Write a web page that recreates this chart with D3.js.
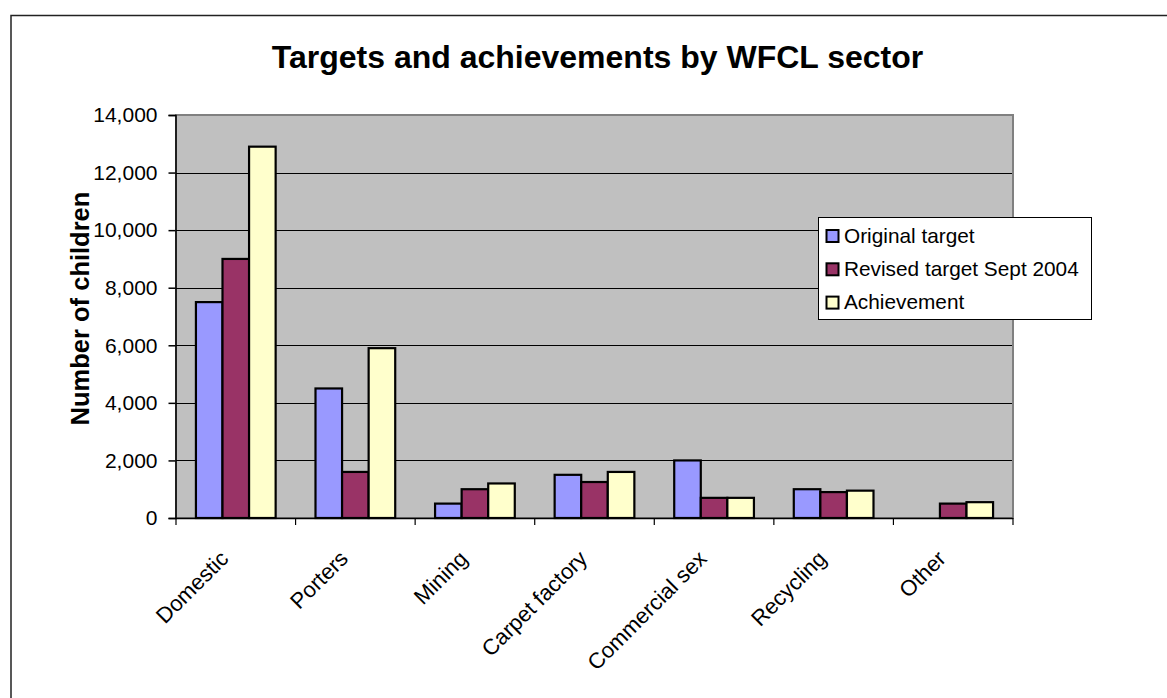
<!DOCTYPE html>
<html>
<head>
<meta charset="utf-8">
<script src="https://cdn.jsdelivr.net/npm/d3@7"></script>
<style>
  html, body { margin: 0; padding: 0; background: #fff; }
  svg { display: block; font-family: "Liberation Sans", Arial, sans-serif; }
</style>
</head>
<body>
<svg id="chart" width="1167" height="698"></svg>
<script>
const categories = ["Domestic", "Porters", "Mining", "Carpet factory", "Commercial sex", "Recycling", "Other"];
const seriesNames = ["Original target", "Revised target Sept 2004", "Achievement"];
const originalTarget = [7500, 4500, 500, 1500, 2000, 1000, null];
const revisedTarget = [9000, 1600, 1000, 1250, 700, 900, 500];
const achievement = [12900, 5900, 1200, 1600, 700, 950, 550];
const seriesColors = ["#9999FF", "#993366", "#FFFFCC"];
const yTicks = [0, 2000, 4000, 6000, 8000, 10000, 12000, 14000];
const titleText = "Targets and achievements by WFCL sector";
const yAxisTitle = "Number of children";

const seriesValues = [originalTarget, revisedTarget, achievement];

const svg = d3.select("#chart");
const plot = { left: 176, right: 1013, top: 115, bottom: 518 };

// outer chart border (extends past the visible frame on right and bottom)
svg.append("rect")
  .attr("x", 11).attr("y", 15.5)
  .attr("width", 1200).attr("height", 720)
  .attr("fill", "#fff").attr("stroke", "#222").attr("stroke-width", 1.5);

// title
svg.append("text")
  .attr("x", 597.5).attr("y", 68)
  .attr("text-anchor", "middle")
  .attr("font-weight", "bold")
  .attr("font-size", 32)
  .text(titleText);

const x0 = d3.scaleBand().domain(categories).range([plot.left, plot.right]).paddingInner(0).paddingOuter(0);
const bw = x0.bandwidth();
const x1 = d3.scaleBand().domain(seriesNames).range([bw / 6, bw * 5 / 6]).padding(0);
const y = d3.scaleLinear().domain([0, 14000]).range([plot.bottom, plot.top]);

// plot background
svg.append("rect")
  .attr("x", plot.left).attr("y", plot.top)
  .attr("width", plot.right - plot.left).attr("height", plot.bottom - plot.top)
  .attr("fill", "#C0C0C0")
  .attr("stroke", "#808080").attr("stroke-width", 2);

// gridlines
svg.append("g")
  .selectAll("line")
  .data(yTicks.filter(t => t > 0 && t < 14000))
  .join("line")
  .attr("x1", plot.left).attr("x2", plot.right - 1)
  .attr("y1", d => Math.round(y(d)) + 0.5).attr("y2", d => Math.round(y(d)) + 0.5)
  .attr("stroke", "#000").attr("stroke-width", 1);

// bars
const groups = svg.append("g")
  .selectAll("g")
  .data(categories)
  .join("g")
  .attr("transform", d => `translate(${x0(d)},0)`);

groups.selectAll("rect")
  .data((c, i) => seriesNames.map((s, j) => ({ s, v: seriesValues[j][i], color: seriesColors[j] })).filter(d => d.v != null))
  .join("rect")
  .attr("x", d => x1(d.s))
  .attr("y", d => y(d.v))
  .attr("width", x1.bandwidth())
  .attr("height", d => y(0) - y(d.v))
  .attr("fill", d => d.color)
  .attr("stroke", "#000")
  .attr("stroke-width", 2.2);

// y axis
const yAxis = d3.axisLeft(y).tickValues(yTicks).tickFormat(d3.format(",")).tickSize(7).tickPadding(11);
const yg = svg.append("g").attr("transform", `translate(${plot.left - 0.5},0)`).call(yAxis);
yg.select(".domain").attr("stroke", "#000").attr("stroke-width", 1.5);
yg.selectAll(".tick line").attr("stroke", "#000").attr("stroke-width", 1.5);
yg.selectAll(".tick text").attr("font-size", 21).attr("fill", "#000")
  .attr("font-family", "Liberation Sans, Arial, sans-serif");

// x axis
const xTickScale = d3.scaleLinear().domain([0, categories.length]).range([plot.left, plot.right]);
const xg = svg.append("g");
xg.append("line")
  .attr("x1", plot.left - 0.5).attr("x2", plot.right)
  .attr("y1", plot.bottom + 0.5).attr("y2", plot.bottom + 0.5)
  .attr("stroke", "#000").attr("stroke-width", 1.5);
xg.selectAll("line.tk")
  .data(d3.range(categories.length + 1))
  .join("line")
  .attr("class", "tk")
  .attr("x1", d => xTickScale(d)).attr("x2", d => xTickScale(d))
  .attr("y1", plot.bottom).attr("y2", plot.bottom + 7)
  .attr("stroke", "#000").attr("stroke-width", 1.2);

xg.selectAll("text")
  .data(categories)
  .join("text")
  .attr("transform", d => `translate(${x0(d) + bw / 2 - 6},${plot.bottom + 42}) rotate(-45)`)
  .attr("text-anchor", "end")
  .attr("font-size", 22)
  .text(d => d);

// y axis title
svg.append("text")
  .attr("transform", `translate(89,${(plot.top + plot.bottom) / 2 - 8}) rotate(-90)`)
  .attr("text-anchor", "middle")
  .attr("font-weight", "bold")
  .attr("font-size", 25.5)
  .text(yAxisTitle);

// legend
const legend = svg.append("g").attr("transform", "translate(818.5,217.5)");
legend.append("rect")
  .attr("width", 273).attr("height", 102)
  .attr("fill", "#fff").attr("stroke", "#000").attr("stroke-width", 1);
const items = legend.selectAll("g.item")
  .data(seriesNames)
  .join("g")
  .attr("class", "item")
  .attr("transform", (d, i) => `translate(0,${i * 33.3})`);
items.append("rect")
  .attr("x", 8).attr("y", 12.5)
  .attr("width", 12).attr("height", 12)
  .attr("fill", (d, i) => seriesColors[i])
  .attr("stroke", "#000").attr("stroke-width", 2);
items.append("text")
  .attr("x", 25.5).attr("y", 25)
  .attr("font-size", 20.8)
  .text(d => d);
</script>
</body>
</html>
